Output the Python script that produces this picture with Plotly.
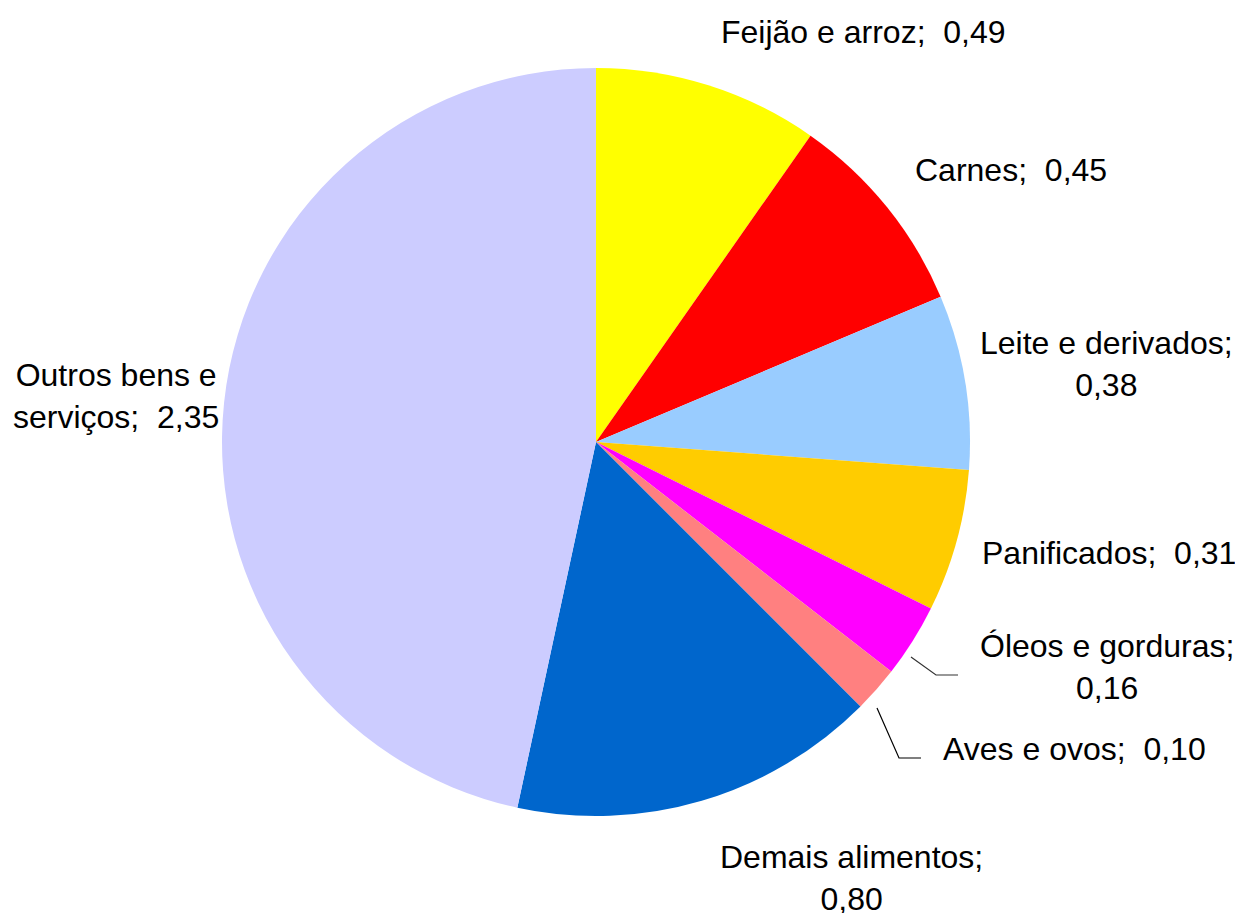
import plotly.graph_objects as go

W, H = 1243, 913

categories = ["Feijão e arroz", "Carnes", "Leite e derivados", "Panificados",
              "Óleos e gorduras", "Aves e ovos", "Demais alimentos",
              "Outros bens e serviços"]
values = [0.49, 0.45, 0.38, 0.31, 0.16, 0.10, 0.80, 2.35]
value_labels = ["0,49", "0,45", "0,38", "0,31", "0,16", "0,10", "0,80", "2,35"]
colors = ["#FFFF00", "#FF0000", "#99CCFF", "#FFCC00", "#FF00FF", "#FF8080",
          "#0066CC", "#CCCCFF"]

# label texts (line breaks as in reference)
label_texts = [
    f"{categories[0]};  {value_labels[0]}",
    f"{categories[1]};  {value_labels[1]}",
    f"{categories[2]};<br>{value_labels[2]}",
    f"{categories[3]};  {value_labels[3]}",
    f"{categories[4]};<br>{value_labels[4]}",
    f"{categories[5]};  {value_labels[5]}",
    f"{categories[6]};<br>{value_labels[6]}",
    f"Outros bens e<br>serviços;  {value_labels[7]}",
]
# label centers in pixels (layout only)
label_pos = [(855, 24), (1003, 162), (1098, 356), (1101, 545),
             (1099, 659), (1066, 741), (844, 870), (108, 388)]

# desired center (596, 441); plotly renders ~8px right/down of the domain center
cx, cy, r = 588, 434, 374

fig = go.Figure(go.Pie(
    labels=categories,
    values=values,
    marker=dict(colors=colors, line=dict(width=0)),
    sort=False,
    direction="clockwise",
    rotation=0,
    textinfo="none",
    hoverinfo="label+value",
    showlegend=False,
    domain=dict(x=[(cx - r) / W, (cx + r) / W],
                y=[(H - cy - r) / H, (H - cy + r) / H]),
))

font = dict(family="Liberation Sans, Arial, sans-serif", size=32, color="#000000")
for txt, (px, py) in zip(label_texts, label_pos):
    fig.add_annotation(x=px / W, y=1 - py / H, xref="paper", yref="paper",
                       text=txt, showarrow=False, font=font, align="center",
                       xanchor="center", yanchor="middle")

# leader lines
def pline(pts, color):
    path = "M " + " L ".join(f"{x / W},{1 - y / H}" for x, y in pts)
    fig.add_shape(type="path", xref="paper", yref="paper", path=path,
                  line=dict(color=color, width=1.2))

pline([(903, 649), (928, 667), (950, 667)], "#333333")
pline([(869, 700), (891, 750), (913, 750)], "#000000")

fig.update_layout(width=W, height=H, margin=dict(l=0, r=0, t=0, b=0),
                  paper_bgcolor="#FFFFFF", plot_bgcolor="#FFFFFF")

fig.write_html("out.html")
